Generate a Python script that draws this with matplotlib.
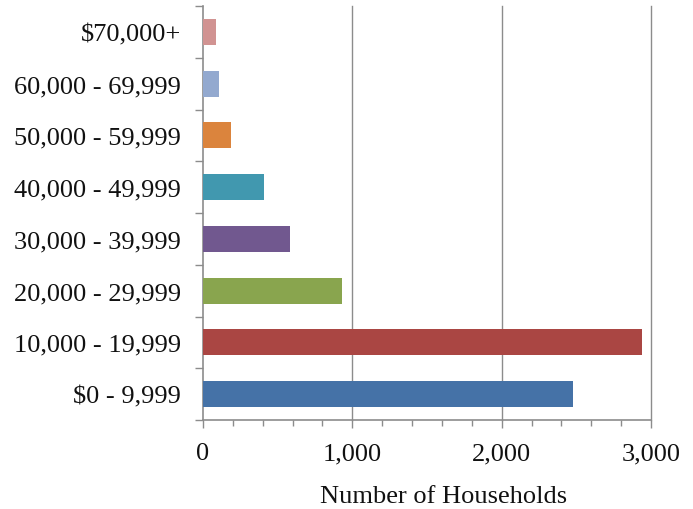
import matplotlib
matplotlib.use("Agg")
import matplotlib.pyplot as plt
from matplotlib.ticker import MultipleLocator, FuncFormatter, FixedLocator, NullFormatter

# Household income brackets, bottom to top
categories = ["$0 - 9,999", "10,000 - 19,999", "20,000 - 29,999", "30,000 - 39,999",
              "40,000 - 49,999", "50,000 - 59,999", "60,000 - 69,999", "$70,000+"]
households = [2478, 2940, 931, 583, 408, 188, 107, 87]
colors = ["#4572A7", "#AA4643", "#89A54E", "#71588F",
          "#4198AF", "#DB843D", "#93A9CF", "#D19392"]
x_ticks = [0, 1000, 2000, 3000]

plt.rcParams["font.family"] = ["Liberation Serif", "DejaVu Serif"]

fig = plt.figure(figsize=(6.93, 5.10), dpi=100)
ax = fig.add_axes([203 / 693, 1 - 421 / 510, (651 - 203) / 693, (421 - 7) / 510])

ypos = list(range(len(categories)))
ax.barh(ypos, households, height=0.5, color=colors, zorder=3)

ax.set_xlim(0, 3000)
ax.set_ylim(-0.5, len(categories) - 0.5)

grid_col = "#8c8c8c"
ax.xaxis.set_major_locator(FixedLocator(x_ticks))
ax.xaxis.set_minor_locator(MultipleLocator(200))
ax.xaxis.set_major_formatter(FuncFormatter(lambda v, p: f"{int(v):,}"))
for xv in x_ticks[1:]:
    ax.axvline(xv, color=grid_col, linewidth=1.0, zorder=0, clip_on=False)

# category labels centred on bars, ticks on the boundaries between bars
ax.set_yticks([y - 0.5 for y in ypos] + [len(categories) - 0.5])
ax.yaxis.set_major_formatter(NullFormatter())
ax.set_yticks(ypos, minor=True)
ax.set_yticklabels(categories, minor=True)
ax.tick_params(axis="y", which="major", direction="out", length=6, width=1, color=grid_col)
ax.tick_params(axis="y", which="minor", length=0, pad=16, labelsize=19, labelcolor="#111111")
ax.tick_params(axis="x", which="major", direction="out", length=6, width=1, color=grid_col,
               pad=10, labelsize=19, labelcolor="#111111")
ax.tick_params(axis="x", which="minor", direction="out", length=4, width=1, color=grid_col)

for side in ["top", "right"]:
    ax.spines[side].set_visible(False)
for side in ["left", "bottom"]:
    ax.spines[side].set_color(grid_col)
    ax.spines[side].set_linewidth(1.2)

ax.set_xlabel("Number of Households", fontsize=19, color="#111111", labelpad=15, x=0.537)

fig.savefig("out.png", dpi=100)
